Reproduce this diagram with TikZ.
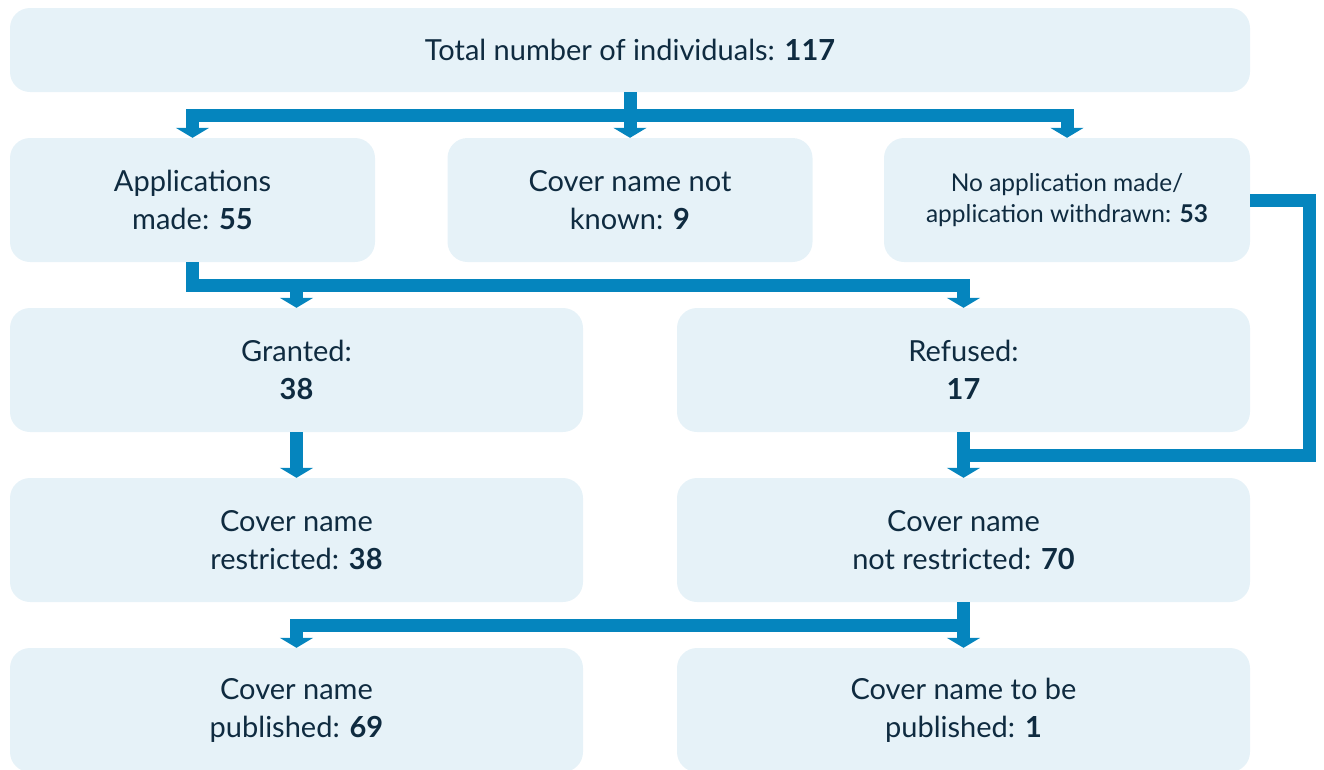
\documentclass[tikz,border=0pt]{standalone}
\usepackage{fontspec}
\setmainfont{Lato}
\usetikzlibrary{arrows.meta,calc}
\definecolor{boxfill}{HTML}{E6F2F8}
\definecolor{arrowblue}{HTML}{0585BE}
\definecolor{txt}{HTML}{0F2B40}
\tikzset{
  box/.style={fill=boxfill, draw=none, rounded corners=20pt, align=center,
    text=txt, inner sep=0pt, font=\fontsize{29}{38}\selectfont},
  smallbox/.style={box, font=\fontsize{24.5}{31}\selectfont},
  conn/.style={draw=arrowblue, line width=13pt, line join=miter, line cap=butt},
  tip/.style={-{Triangle[width=33pt,length=10pt]}},
  tips/.style={{Triangle[width=33pt,length=10pt]}-{Triangle[width=33pt,length=10pt]}}
}
\begin{document}
\begin{tikzpicture}[x=1pt,y=-1pt]
\useasboundingbox (0,0) rectangle (1324,769);
\node[box, minimum width=1240pt, minimum height=84pt] (top) at (630,50) {Total number of individuals: \textbf{117}};
\node[box, minimum width=365pt, minimum height=124pt] (app) at (192.5,200) {Applications\\made: \textbf{55}};
\node[box, minimum width=365pt, minimum height=124pt] (cnk) at (630,200) {Cover name not\\known: \textbf{9}};
\node[smallbox, minimum width=366pt, minimum height=124pt] (noapp) at (1067,200) {No application made/\\application withdrawn: \textbf{53}};
\node[box, minimum width=573pt, minimum height=124pt] (gran) at (296.5,370) {Granted:\\\textbf{38}};
\node[box, minimum width=573pt, minimum height=124pt] (ref) at (963.5,370) {Refused:\\\textbf{17}};
\node[box, minimum width=573pt, minimum height=124pt] (restr) at (296.5,540) {Cover name\\restricted: \textbf{38}};
\node[box, minimum width=573pt, minimum height=124pt] (nrestr) at (963.5,540) {Cover name\\not restricted: \textbf{70}};
\node[box, minimum width=573pt, minimum height=124pt] (pub) at (296.5,710) {Cover name\\published: \textbf{69}};
\node[box, minimum width=573pt, minimum height=124pt] (tbp) at (963.5,710) {Cover name to be\\published: \textbf{1}};

% row 1 -> row 2
\coordinate (h1) at ($(top.south)+(0,23.5)$);
\draw[conn, tip] (cnk.north |- top.south) -- (cnk.north);
\draw[conn, tips] (app.north) -- (app.north |- h1) -- (noapp.north |- h1) -- (noapp.north);
% applications -> granted / refused
\coordinate (h2) at ($(app.south)!0.5!(gran.north)$);
\draw[conn, tip] (app.south) -- (app.south |- h2) -- (ref.north |- h2) -- (ref.north);
\draw[conn, tip] (gran.north |- h2) -- (gran.north);
% granted -> restricted
\draw[conn, tip] (gran.south) -- (restr.north);
% refused -> not restricted, and no application loop
\coordinate (h3) at ($(ref.south)!0.5!(nrestr.north)$);
\coordinate (loopx) at ($(noapp.east)+(59.5,0)$);
\draw[conn] (noapp.east) -- (loopx) -- (loopx |- h3) -- (ref.south |- h3);
\draw[conn, tip] (ref.south) -- (nrestr.north);
% not restricted -> published / to be published
\coordinate (h4) at ($(nrestr.south)!0.5!(tbp.north)$);
\draw[conn, tip] (nrestr.south) -- (tbp.north);
\draw[conn, tip] (nrestr.south |- h4) -- (pub.north |- h4) -- (pub.north);
\end{tikzpicture}
\end{document}
